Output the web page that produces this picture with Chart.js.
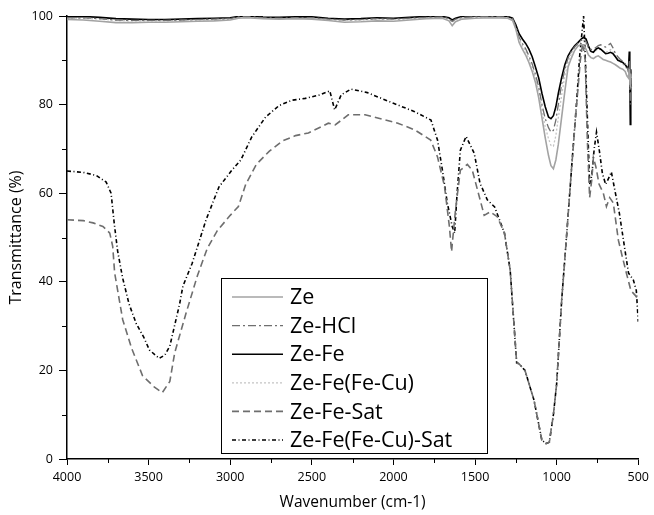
<!DOCTYPE html>
<html>
<head>
<meta charset="utf-8">
<script src="https://cdn.jsdelivr.net/npm/chart.js@4"></script>
<style>
  body { margin: 0; background: #fff; }
</style>
</head>
<body>
<canvas id="ftir" width="654" height="515"></canvas>
<script>
// wavenumber grid shared by the four top spectra
var topWn = [4000, 3900, 3800, 3700, 3600, 3500, 3400, 3300, 3200, 3100,
             3000, 2950, 2900, 2800, 2700, 2600, 2500, 2400, 2300, 2200,
             2100, 2000, 1900, 1800, 1700, 1660, 1640, 1620, 1580, 1500,
             1400, 1300, 1270, 1250, 1230, 1210, 1190, 1170, 1150, 1130,
             1110, 1090, 1070, 1050, 1035, 1020, 1005, 990, 970, 950,
             930, 910, 890, 870, 850, 835, 820, 805, 790, 775,
             760, 745, 730, 715, 700, 685, 670, 655, 640, 625,
             610, 595, 580, 570, 560, 555, 552, 549, 546, 543];

var zeT = [99.2, 99.1, 98.8, 98.5, 98.5, 98.6, 98.6, 98.7, 98.8, 98.9,
           99.1, 99.5, 99.6, 99.4, 99.3, 99.4, 99.3, 99.0, 98.6, 98.7,
           98.9, 98.8, 99.1, 99.4, 99.5, 98.9, 97.8, 98.7, 99.3, 99.5,
           99.6, 99.5, 99.0, 97.0, 94.0, 92.5, 91.2, 89.5, 87.5, 85.0,
           81.5, 77.0, 72.5, 68.5, 66.2, 65.5, 67.5, 71.0, 77.0, 83.0,
           88.5, 90.5, 92.2, 93.2, 93.6, 93.4, 92.5, 91.2, 90.6, 90.4,
           90.8, 91.0, 90.6, 90.2, 90.0, 89.8, 89.6, 89.3, 89.0, 88.6,
           88.2, 88.0, 87.5, 86.5, 86.0, 88.0, 85.5, 84.0, 87.0, 86.0];

var zeHclT = [99.6, 99.6, 99.4, 99.1, 99.0, 99.0, 99.0, 99.1, 99.2, 99.3,
              99.4, 99.8, 99.9, 99.6, 99.5, 99.6, 99.6, 99.3, 99.1, 99.2,
              99.4, 99.3, 99.5, 99.7, 99.8, 99.4, 98.8, 99.3, 99.7, 99.8,
              99.9, 99.8, 99.4, 97.6, 95.2, 93.8, 92.6, 91.0, 89.2, 86.8,
              84.0, 80.0, 76.8, 74.8, 73.8, 74.2, 76.5, 80.0, 84.5, 88.0,
              90.5, 92.0, 93.0, 93.8, 94.5, 94.8, 94.2, 93.0, 92.4, 92.5,
              92.9, 93.3, 93.5, 93.2, 93.0, 93.4, 93.8, 92.8, 91.5, 90.8,
              90.2, 89.8, 89.2, 88.5, 87.5, 90.0, 84.0, 80.0, 86.0, 85.0];

var zeFeT = [99.8, 99.9, 99.7, 99.4, 99.3, 99.2, 99.2, 99.3, 99.4, 99.5,
             99.6, 99.9, 100, 99.8, 99.7, 99.8, 99.8, 99.5, 99.3, 99.4,
             99.6, 99.5, 99.7, 99.9, 99.9, 99.6, 99.1, 99.5, 99.9, 100,
             100, 99.9, 99.5, 98.0, 96.0, 94.8, 93.8, 92.5, 90.8, 88.5,
             86.0, 82.5, 79.5, 77.2, 76.8, 77.5, 79.5, 82.5, 86.0, 89.0,
             91.0, 92.3, 93.3, 94.0, 94.8, 95.2, 94.8, 93.2, 92.0, 91.8,
             92.5, 92.8, 92.5, 92.0, 91.5, 91.6, 91.8, 91.5, 90.8, 90.0,
             89.8, 89.5, 89.0, 88.5, 88.0, 92.0, 86.0, 75.5, 88.0, 84.0];

var zeFeCuT = [99.5, 99.5, 99.3, 99.0, 98.9, 98.9, 98.9, 99.0, 99.1, 99.2,
               99.3, 99.7, 99.8, 99.5, 99.4, 99.5, 99.5, 99.2, 99.0, 99.1,
               99.3, 99.2, 99.4, 99.6, 99.7, 99.3, 98.6, 99.2, 99.6, 99.7,
               99.8, 99.7, 99.2, 97.3, 94.8, 93.3, 92.0, 90.4, 88.5, 86.0,
               83.0, 78.8, 75.0, 72.3, 70.8, 70.6, 73.0, 77.0, 82.0, 86.5,
               89.5, 91.5, 92.8, 93.6, 94.2, 94.5, 93.8, 92.5, 91.8, 91.8,
               92.2, 92.5, 92.4, 92.0, 91.8, 92.0, 92.4, 91.8, 90.8, 90.2,
               89.6, 89.2, 88.6, 88.0, 87.0, 89.0, 86.0, 82.0, 87.0, 85.0];

// Ze-Fe-Sat
var satGrayWn = [4000, 3900, 3840, 3780, 3738, 3720, 3708, 3680, 3659, 3604,
                 3537, 3464, 3416, 3370, 3340, 3270, 3200, 3141, 3080, 3000,
                 2950, 2905, 2840, 2760, 2680, 2600, 2521, 2399, 2357, 2277,
                 2174, 1973, 1870, 1772, 1730, 1687, 1657, 1644, 1620, 1590,
                 1547, 1517, 1474, 1444, 1407, 1364, 1320, 1285, 1245, 1231,
                 1194, 1139, 1091, 1065, 1045, 1020, 1000, 969, 938, 908,
                 880, 855, 840, 825, 812, 798, 785, 775, 760, 740,
                 714, 695, 675, 653, 622, 600, 573, 545, 520, 500];
var satGrayT = [54, 53.8, 53.3, 52.5, 51, 48, 42, 36, 31.5, 25,
                18.8, 16.2, 15, 17.5, 24, 33, 41.5, 47.5, 51.5, 55,
                57, 62, 66.5, 69.5, 71.8, 73, 73.6, 75.8, 75.4, 77.7,
                77.7, 75.8, 74.3, 72, 68.2, 61.5, 52.4, 46.8, 56.2, 65.2,
                66.5, 65.2, 59.2, 55, 55.8, 54.7, 51, 42.7, 21.7, 21.5,
                20, 13.3, 4.3, 3.5, 3.8, 10, 17, 36, 51, 66,
                79, 90, 94, 90, 72, 59, 63, 68, 66, 62,
                60, 57, 59, 57.8, 49.4, 46, 42, 38, 37, 36];

// Ze-Fe(Fe-Cu)-Sat
var satBlackWn = [4000, 3900, 3820, 3760, 3730, 3710, 3690, 3660, 3620, 3575,
                  3530, 3495, 3435, 3400, 3370, 3310, 3290, 3233, 3148, 3069,
                  2990, 2935, 2868, 2783, 2700, 2620, 2540, 2450, 2390, 2360,
                  2320, 2260, 2160, 2000, 1870, 1770, 1730, 1700, 1670, 1640,
                  1625, 1610, 1590, 1555, 1505, 1470, 1425, 1380, 1320, 1285,
                  1245, 1231, 1194, 1139, 1091, 1065, 1045, 1020, 1000, 969,
                  938, 908, 877, 859, 835, 822, 810, 798, 785, 770,
                  756, 740, 720, 700, 680, 665, 640, 616, 585, 560,
                  530, 512, 500];
var satBlackT = [65, 64.7, 64, 62.5, 60, 53, 47, 41, 35, 30.5,
                 27.5, 24.6, 22.7, 23.5, 25.5, 35, 39, 44.2, 54, 61.4,
                 65.2, 67.5, 72.7, 77.2, 79.8, 81, 81.4, 82.2, 83.1, 78.8,
                 82.2, 83.5, 82.7, 80.3, 78.4, 76.5, 72, 65.2, 57.8, 52.5,
                 51, 60, 69.7, 72.8, 69, 62.3, 58.5, 56.9, 51, 42.7,
                 21.7, 21.5, 20, 13.3, 4.3, 3.5, 3.8, 10, 17, 36,
                 51, 66, 81, 91, 100, 88, 75, 62, 64, 70,
                 73.8, 70, 64.5, 62, 63.5, 64.8, 60, 55.5, 48, 42,
                 40.4, 38, 31];

var xMinor = [3750, 3250, 2750, 2250, 1750, 1250, 750];
var yMinor = [10, 30, 50, 70, 90];

function pts(wn, t) {
  return wn.map(function (w, i) { return { x: w, y: t[i] }; });
}

var minorTicks = {
  id: "minorTicks",
  afterDraw: function (chart) {
    var ctx = chart.ctx, x = chart.scales.x, y = chart.scales.y;
    ctx.save();
    ctx.strokeStyle = "#000";
    ctx.lineWidth = 1;
    ctx.beginPath();
    xMinor.forEach(function (v) {
      var px = Math.round(x.getPixelForValue(v)) + 0.5;
      ctx.moveTo(px, x.top);
      ctx.lineTo(px, x.top + 4);
    });
    yMinor.forEach(function (v) {
      var py = Math.round(y.getPixelForValue(v)) + 0.5;
      ctx.moveTo(y.right, py);
      ctx.lineTo(y.right - 5, py);
    });
    ctx.stroke();
    ctx.restore();
  }
};

var boxLegend = {
  id: "boxLegend",
  afterDatasetsDraw: function (chart, args, o) {
    var ctx = chart.ctx;
    var left = chart.chartArea.left + o.dx, top = chart.chartArea.top + o.dy;
    ctx.save();
    ctx.fillStyle = "#fff";
    ctx.fillRect(left, top, o.width, o.height);
    ctx.strokeStyle = "#000";
    ctx.lineWidth = 1;
    ctx.strokeRect(left + 0.5, top + 0.5, o.width, o.height);
    ctx.font = o.font;
    ctx.textBaseline = "middle";
    chart.data.datasets.forEach(function (ds, i) {
      var y = top + o.first + i * o.row;
      ctx.strokeStyle = ds.borderColor;
      ctx.lineWidth = ds.borderWidth;
      ctx.setLineDash(ds.borderDash || []);
      ctx.beginPath();
      ctx.moveTo(left + 11, y);
      ctx.lineTo(left + 62, y);
      ctx.stroke();
      ctx.setLineDash([]);
      ctx.fillStyle = "#000";
      ctx.fillText(ds.label, left + 69, y + 1);
    });
    ctx.restore();
  }
};

new Chart("ftir", {
  type: "line",
  data: {
    datasets: [
      { label: "Ze", data: pts(topWn, zeT), borderColor: "#a3a3a3", borderWidth: 1.6 },
      { label: "Ze-HCl", data: pts(topWn, zeHclT), borderColor: "#6f6f6f", borderWidth: 1.3, borderDash: [8, 3, 2, 3] },
      { label: "Ze-Fe", data: pts(topWn, zeFeT), borderColor: "#000", borderWidth: 1.6 },
      { label: "Ze-Fe(Fe-Cu)", data: pts(topWn, zeFeCuT), borderColor: "#c4c4c4", borderWidth: 1.3, borderDash: [2, 2] },
      { label: "Ze-Fe-Sat", data: pts(satGrayWn, satGrayT), borderColor: "#6e6e6e", borderWidth: 1.6, borderDash: [7, 4] },
      { label: "Ze-Fe(Fe-Cu)-Sat", data: pts(satBlackWn, satBlackT), borderColor: "#000", borderWidth: 1.6, borderDash: [4, 2.5, 1, 2.5] }
    ]
  },
  options: {
    responsive: false,
    animation: false,
    layout: { padding: { left: 0, right: 12, top: 16, bottom: 0 } },
    elements: { point: { radius: 0 }, line: { tension: 0 } },
    plugins: {
      legend: { display: false },
      tooltip: { enabled: false },
      boxLegend: { dx: 154, dy: 262, width: 266, height: 175, first: 19, row: 28.6, font: "21.5px 'Open Sans'" }
    },
    scales: {
      x: {
        type: "linear",
        reverse: true,
        min: 500,
        max: 4000,
        afterFit: function (s) { s.height = 56; },
        border: { display: true, color: "#000", width: 1.5 },
        grid: { drawOnChartArea: false, drawTicks: true, tickLength: 6, tickColor: "#000" },
        ticks: {
          stepSize: 500, color: "#000", padding: 5, maxRotation: 0,
          font: { family: "'Open Sans'", size: 12.5 },
          callback: function (v) { return String(v); }
        },
        title: { display: true, text: "Wavenumber (cm-1)", color: "#000", padding: { bottom: 3 }, font: { family: "'Open Sans'", size: 15.5 } }
      },
      y: {
        min: 0,
        max: 100,
        afterFit: function (s) { s.width = 67; },
        border: { display: true, color: "#000", width: 1.5 },
        grid: { drawOnChartArea: false, drawTicks: true, tickLength: 8, tickColor: "#000" },
        ticks: { stepSize: 20, color: "#000", padding: 6, font: { family: "'Open Sans'", size: 12.5 } },
        title: { display: true, text: "Transmittance (%)", color: "#000", padding: { top: 7 }, font: { family: "'Open Sans'", size: 16 } }
      }
    }
  },
  plugins: [minorTicks, boxLegend]
});
</script>
</body>
</html>
